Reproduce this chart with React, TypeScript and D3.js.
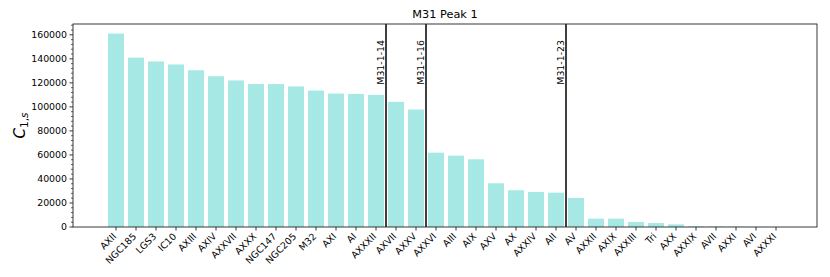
import React from "react";
import * as d3 from "d3";

const categories = ["AXII","NGC185","LGS3","IC10","AXIII","AXIV","AXXVII","AXXX","NGC147","NGC205","M32","AXI","AI","AXXXII","AXVII","AXXV","AXXVI","AIII","AIX","AXV","AX","AXXIV","AII","AV","AXXII","AXIX","AXXIII","Tri","AXX","AXXIX","AVII","AXXI","AVI","AXXXI"];
const values = [161000,141000,137800,135300,130500,125500,122000,119000,119000,117000,113600,111100,110800,110000,104200,97800,61900,59400,56400,36400,30600,29200,28600,24200,6900,6900,4200,3300,2200,600,400,300,100,0];
const yTicks = [0,20000,40000,60000,80000,100000,120000,140000,160000];
const markers = [
  { pos: 13.5, label: "M31-1-14" },
  { pos: 15.5, label: "M31-1-16" },
  { pos: 22.5, label: "M31-1-23" },
];
const title = "M31 Peak 1";

const W = 830, H = 277;
const L = 73, R = 817, T = 24, B = 227;
const FONT = "DejaVu Sans, sans-serif";

export default function App() {
  const x = d3.scaleLinear().domain([-2.15, 35.05]).range([L, R]);
  const y = d3.scaleLinear().domain([0, 169000]).range([B, T]);
  const bw = x(0.8) - x(0);
  const minor = d3.range(0, 169000, 4000).filter((v) => v % 20000 !== 0);
  return (
    <svg width={W} height={H} style={{ position: "absolute", left: 0, top: 0 }} fontFamily={FONT}>
      <rect width={W} height={H} fill="white" />
      {values.map((v, i) => (
        <rect key={i} x={x(i) - bw / 2} y={y(v)} width={bw} height={y(0) - y(v)} fill="#a6e8e4" />
      ))}
      {markers.map((m) => (
        <g key={m.label}>
          <line x1={x(m.pos)} x2={x(m.pos)} y1={T} y2={B} stroke="black" strokeWidth={1.5} />
          <text transform={`translate(${x(m.pos) - 2},40) rotate(-90)`} textAnchor="end" fontSize={9.4} fill="black">{m.label}</text>
        </g>
      ))}
      <rect x={L} y={T} width={R - L} height={B - T} fill="none" stroke="#222" strokeWidth={0.9} />
      {yTicks.map((t) => (
        <g key={t}>
          <line x1={L - 3.5} x2={L} y1={y(t)} y2={y(t)} stroke="#222" strokeWidth={0.9} />
          <text x={L - 6} y={y(t)} dy="0.35em" textAnchor="end" fontSize={9.4}>{t}</text>
        </g>
      ))}
      {minor.map((t) => (
        <line key={t} x1={L - 2} x2={L} y1={y(t)} y2={y(t)} stroke="#222" strokeWidth={0.7} />
      ))}
      {categories.map((c, i) => (
        <g key={c}>
          <line x1={x(i)} x2={x(i)} y1={B} y2={B + 3.5} stroke="#222" strokeWidth={0.9} />
          <text transform={`translate(${x(i) + 1},237) rotate(-45)`} textAnchor="end" fontSize={9.4}>{c}</text>
        </g>
      ))}
      <text x={(L + R) / 2} y={18} textAnchor="middle" fontSize={11.3}>{title}</text>
      <text transform={`translate(25,${(T + B) / 2}) rotate(-90)`} textAnchor="middle" fontSize={15}>
        <tspan fontStyle="italic">C</tspan>
        <tspan fontSize={10.5} dy={3}>1,</tspan>
        <tspan fontSize={10.5} fontStyle="italic">s</tspan>
      </text>
    </svg>
  );
}
